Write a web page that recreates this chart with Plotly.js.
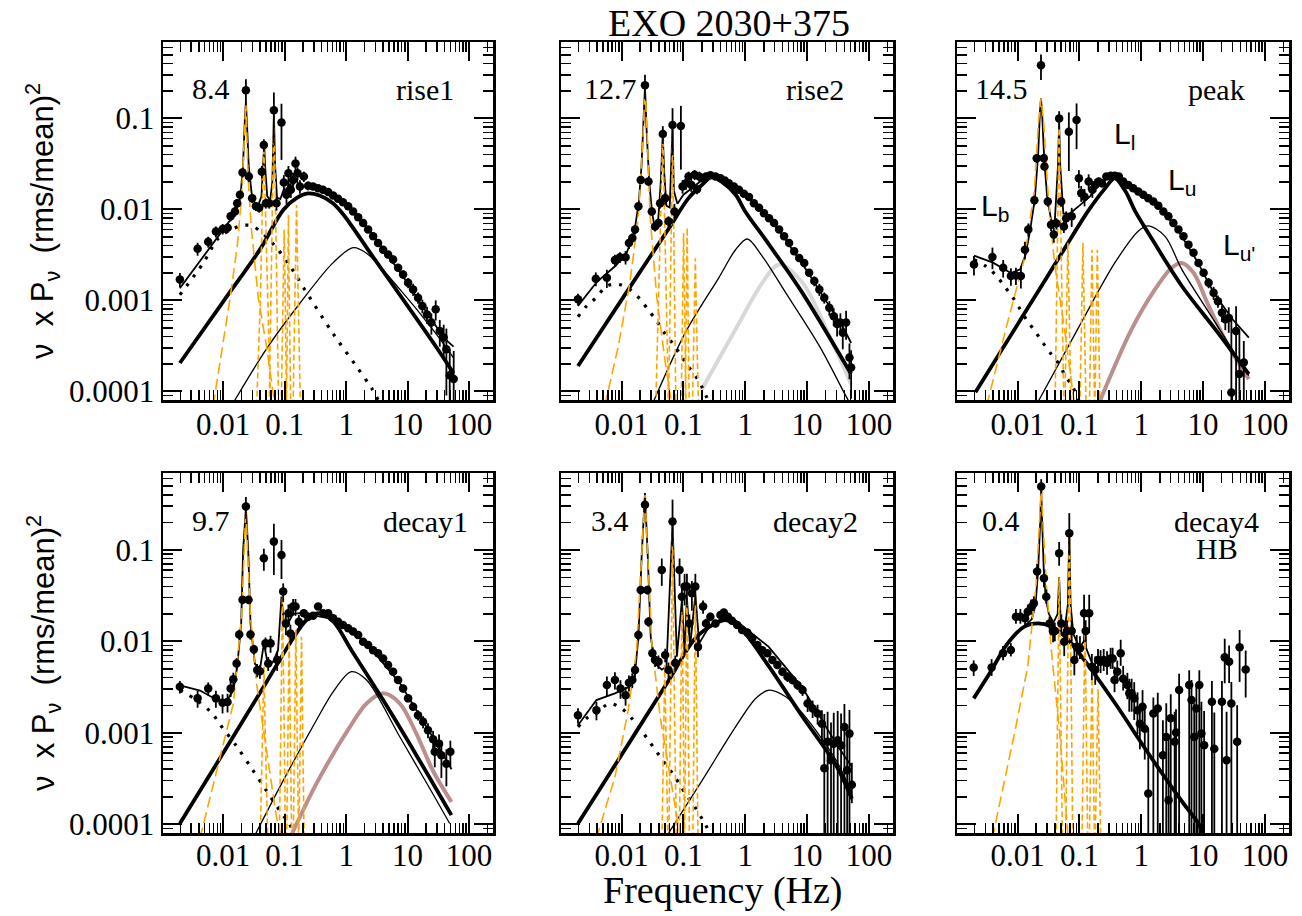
<!DOCTYPE html>
<html><head><meta charset="utf-8">
<script src="https://cdn.plot.ly/plotly-3.0.1.min.js"></script>
<style>html,body{margin:0;padding:0;background:#fff}#chart{width:1302px;height:916px}</style>
</head><body><div id="chart"></div>
<script>
// ---------------- tick labels ----------------
const xTickVals = [0.01, 0.1, 1, 10, 100];
const xTickText = ['0.01', '0.1', '1', '10', '100'];
const yTickVals = [0.0001, 0.001, 0.01, 0.1];
const yTickText = ['0.0001', '0.001', '0.01', '0.1'];
const panelNames = ['rise1', 'rise2', 'peak', 'decay1', 'decay2', 'decay4'];
const panelRates = ['8.4', '12.7', '14.5', '9.7', '3.4', '0.4'];

// ---------------- panel 1 : rise1 ----------------
const p1_freq = [0.00197,0.00383,0.0057,0.0076,0.0098,0.0118,0.0132,0.0155,0.0169,0.0187, 0.0206,0.0234,0.0261,0.0296,0.034,0.0385,0.0425,0.0458,0.0495,0.056, 0.0667,0.0736,0.0887,0.0969,0.107,0.115,0.126,0.137,0.150,0.162, 0.177,0.205,0.241,0.29,0.35,0.42,0.51,0.615,0.74,0.89, 1.08,1.3,1.57,1.89,2.28,2.75,3.31,4.0,4.82,5.81, 7.01,8.45,10.2,12.3,14.8,17.4,20.7,24.4,28.7,33.4, 38.7,42.8,48.5,56.3];
const p1_power = [0.0017,0.0037,0.0044,0.0057,0.0061,0.0063,0.0084,0.0095,0.0117,0.0145, 0.0254,0.204,0.023,0.0133,0.0108,0.0104,0.026,0.051,0.0117,0.0117, 0.123,0.0117,0.090,0.0198,0.0145,0.025,0.0164,0.0211,0.032,0.025, 0.0179,0.023,0.0182,0.0179,0.0171,0.0164,0.0155,0.0142,0.0131,0.012, 0.0108,0.0095,0.0082,0.0071,0.006,0.00506,0.00428,0.00361,0.00319,0.00281, 0.00228,0.00193,0.00156,0.00132,0.00107,0.00087,0.0007,0.00057,0.0008,0.00046, 0.00039,0.00029,0.00015,0.000137];
const p1_err = [0.0003,0.0006,0.0006,0.0008,0.0008,0.0008,0.001,0.0012,0.0013,0.0015, 0.003,0.065,0.003,0.0015,0.0012,0.0012,0.004,0.008,0.0015,0.0015, 0.07,0.002,0.055,0.004,0.003,0.005,0.003,0.004,0.006,0.004, 0.003,0.003,0.002,0.0015,0.0012,0.001,0.001,0.001,0.0009,0.0008, 0.0007,0.0006,0.0005,0.0005,0.0004,0.0004,0.0003,0.0003,0.0003,0.0003, 0.0002,0.0002,0.0002,0.0002,0.00015,0.00015,0.00015,0.00015,0.0002,0.00015, 0.00015,0.0002,0.00014,0.00014];
const p1_total = [[0.00197,0.00136],[0.004,0.0026],[0.0079,0.0048],[0.0126,0.0074],[0.0158,0.0091],[0.019,0.0135],[0.021,0.03],[0.0225,0.1],[0.0234,0.152],[0.0245,0.08],[0.026,0.03],[0.029,0.015],[0.033,0.0115],[0.037,0.011],[0.042,0.014],[0.045,0.035],[0.0465,0.05],[0.048,0.03],[0.052,0.014],[0.058,0.0125],[0.063,0.02],[0.0667,0.113],[0.07,0.03],[0.075,0.0135],[0.085,0.013],[0.098,0.017],[0.11,0.015],[0.115,0.02],[0.125,0.016],[0.14,0.019],[0.156,0.022],[0.17,0.017],[0.25,0.0185],[0.4,0.0168],[0.6,0.0145],[1.0,0.0118],[1.5,0.0088],[2.5,0.0057],[4,0.0037],[7,0.0022],[10,0.00155],[20,0.00075],[40,0.00038],[56,0.00031]];
const p1_Lb = [[0.00197,0.00115],[0.00473,0.00257],[0.0083,0.0048],[0.015,0.0062],[0.022,0.0067],[0.0308,0.0065],[0.0634,0.00425],[0.121,0.00242],[0.205,0.00136],[0.615,0.00043],[1.47,0.000188],[2.58,0.000109],[3.5,7.5e-5]];
const p1_Ll = [[0.00197,0.000205],[0.01,0.00097],[0.04,0.00366],[0.094,0.0098],[0.155,0.0133],[0.24,0.015],[0.37,0.0142],[0.61,0.0117],[0.9,0.0088],[3,0.00275],[10,0.00087],[30,0.0003],[56,0.000158]];
const p1_Lu = [[0.012,6e-5],[0.05,0.00029],[0.177,0.00093],[0.615,0.0026],[1.3,0.0038],[2.15,0.0033],[7.5,0.00132],[25.6,0.00048],[56,0.000234]];
const p1_qpos = [
 [[0.00687,7e-5],[0.00975,0.00031],[0.0128,0.00101],[0.0169,0.0039],[0.0199,0.0138],[0.0234,0.152],[0.0255,0.021],[0.0289,0.0059],[0.037,0.0011],[0.0507,0.00031],[0.0692,7e-5]],
 [[0.035,7e-5],[0.0404,0.0011],[0.0436,0.0138],[0.0458,0.049],[0.0488,0.0091],[0.054,0.00073],[0.059,7e-5]],
 [[0.056,7e-5],[0.0618,0.0026],[0.065,0.032],[0.0667,0.113],[0.0692,0.032],[0.0727,0.0026],[0.0795,7e-5]],
 [[0.088,7e-5],[0.094,0.0012],[0.098,0.006],[0.102,0.0012],[0.107,7e-5]],
 [[0.107,7e-5],[0.112,0.0016],[0.115,0.0087],[0.118,0.0016],[0.125,7e-5]],
 [[0.137,7e-5],[0.149,0.002],[0.156,0.0112],[0.163,0.002],[0.18,7e-5]]
];

// ---------------- panel 2 : rise2 ----------------
const p2_freq = [0.00197,0.00383,0.00578,0.0078,0.0094,0.0116,0.01315,0.0149,0.0165,0.0187, 0.0204,0.0239,0.0272,0.0308,0.0348,0.0395,0.042,0.0464,0.0507,0.0574, 0.0667,0.0717,0.091,0.0969,0.11,0.121,0.134,0.152,0.166,0.181, 0.2,0.232,0.273,0.33,0.397,0.467,0.542,0.654,0.789,0.951, 1.15,1.38,1.67,2.01,2.43,2.93,3.53,4.25,5.13,6.18, 7.46,9.0,10.8,13.1,15.8,19.0,22.9,27.0,30.6,34.6, 37.8,42.8,48.5,51.6];
const p2_power = [0.00103,0.00173,0.00177,0.00277,0.00298,0.00298,0.00428,0.00485,0.006,0.0108, 0.0211,0.232,0.0203,0.0095,0.0065,0.0071,0.0117,0.0673,0.0133,0.0074, 0.0845,0.0095,0.0824,0.0179,0.0194,0.023,0.0186,0.024,0.0167,0.023, 0.022,0.023,0.0238,0.023,0.022,0.0208,0.0194,0.0179,0.0164,0.0149, 0.0137,0.0117,0.0104,0.0091,0.008,0.0071,0.006,0.00506,0.00428,0.00347, 0.00293,0.00258,0.00201,0.00163,0.00132,0.00107,0.00083,0.00067,0.00055,0.00057, 0.00044,0.00057,0.000236,0.000183];
const p2_err = [0.00015,0.0003,0.0004,0.0004,0.0004,0.0005,0.0006,0.0006,0.0007,0.0012, 0.002,0.07,0.002,0.001,0.0008,0.0008,0.0015,0.015,0.002,0.001, 0.045,0.002,0.055,0.003,0.003,0.003,0.003,0.003,0.002,0.003, 0.002,0.002,0.002,0.0015,0.0015,0.0012,0.001,0.001,0.001,0.0009, 0.0008,0.0007,0.0006,0.0005,0.0005,0.0004,0.0004,0.0003,0.0003,0.0003, 0.0003,0.0002,0.0002,0.0002,0.0002,0.00015,0.00015,0.00015,0.00015,0.00015, 0.00015,0.0002,0.0001,0.0001];
const p2_total = [[0.00197,0.00087],[0.004,0.0016],[0.008,0.0024],[0.012,0.0033],[0.016,0.0055],[0.019,0.012],[0.021,0.03],[0.0225,0.1],[0.0239,0.222],[0.0255,0.07],[0.028,0.02],[0.031,0.0095],[0.034,0.0065],[0.039,0.0075],[0.043,0.02],[0.0464,0.065],[0.049,0.025],[0.053,0.011],[0.06,0.0105],[0.0667,0.08],[0.07,0.016],[0.08,0.0115],[0.1,0.0145],[0.15,0.018],[0.2,0.021],[0.3,0.0225],[0.5,0.021],[1,0.0145],[2,0.0092],[4,0.0052],[10,0.0021],[20,0.001],[40,0.00048],[51.6,0.00034]];
const p2_Lb = [[0.00197,0.00066],[0.00277,0.00088],[0.00383,0.00106],[0.00578,0.00144],[0.00883,0.0015],[0.0136,0.00132],[0.0199,0.00103],[0.0272,0.00078],[0.037,0.000594],[0.0488,0.000443],[0.0667,0.000338],[0.0887,0.000256],[0.117,0.000191],[0.156,0.000149],[0.2,0.000111],[0.26,7.5e-5]];
const p2_Ll = [[0.00197,0.00019],[0.0165,0.0017],[0.0574,0.0061],[0.121,0.0133],[0.2,0.0186],[0.29,0.023],[0.4,0.0205],[0.7,0.0145],[1.0,0.0095],[2.43,0.0041],[8.4,0.00121],[51.6,0.000155]];
const p2_Lu = [[0.0308,7e-5],[0.107,0.00044],[0.373,0.00177],[0.697,0.0036],[1.08,0.00473],[1.89,0.00305],[4.53,0.00121],[15.8,0.000316],[42.8,8.8e-5],[55,6.5e-5]];
const p2_Lu2 = [[0.2,0.000106],[0.697,0.00048],[1.89,0.00156],[3.53,0.00248],[8.45,0.00156],[22.9,0.00041],[51.6,0.00012]];
const p2_qpos = [
 [[0.00536,7e-5],[0.00883,0.00031],[0.0136,0.00156],[0.0187,0.0084],[0.0225,0.0745],[0.0239,0.222],[0.0258,0.0745],[0.0289,0.0084],[0.037,0.0011],[0.0507,0.00021],[0.065,7e-5]],
 [[0.0357,7e-5],[0.039,0.0008],[0.0435,0.012],[0.0464,0.068],[0.049,0.012],[0.053,0.0008],[0.0574,7e-5]],
 [[0.0574,7e-5],[0.0625,0.0015],[0.0655,0.02],[0.0667,0.075],[0.068,0.02],[0.071,0.0015],[0.0755,7e-5]],
 [[0.092,7e-5],[0.097,0.0011],[0.1007,0.0055],[0.104,0.0011],[0.11,7e-5]],
 [[0.107,7e-5],[0.112,0.0012],[0.115,0.0063],[0.118,0.0012],[0.124,7e-5]],
 [[0.14,7e-5],[0.15,0.0007],[0.156,0.0029],[0.162,0.0007],[0.175,7e-5]]
];

// ---------------- panel 3 : peak ----------------
const p3_freq = [0.00197,0.00392,0.00585,0.0078,0.0094,0.0113,0.01315,0.0149,0.0187,0.0204, 0.0239,0.0265,0.0272,0.0308,0.0348,0.0385,0.0425,0.047,0.0507,0.056, 0.061,0.0675,0.075,0.09,0.098,0.107,0.121,0.141,0.162,0.181, 0.205,0.232,0.273,0.321,0.373,0.434,0.51,0.615,0.741,0.894, 1.08,1.3,1.57,1.89,2.28,2.75,3.31,4.0,4.82,5.81, 7.01,8.45,10.2,12.3,14.8,17.4,20.2,22.9,26.0,28.7, 34.2,38.7,45.6];
const p3_power = [0.00248,0.003,0.00228,0.00185,0.00188,0.00185,0.00361,0.006,0.0126,0.0365, 0.384,0.0365,0.0296,0.0122,0.0068,0.0053,0.007,0.1,0.0122,0.0065, 0.008,0.0714,0.0084,0.096,0.022,0.0151,0.0138,0.0203,0.0164,0.0186, 0.0203,0.0194,0.023,0.0235,0.0235,0.023,0.0203,0.0186,0.0171,0.0157, 0.0145,0.0133,0.0122,0.011,0.0095,0.0084,0.0071,0.006,0.00506,0.0041, 0.00333,0.00258,0.00201,0.00156,0.00121,0.00098,0.00073,0.00062,0.00064,0.000097, 0.00046,0.000155,0.000208];
const p3_err = [0.0006,0.0008,0.0005,0.0004,0.0004,0.0005,0.0008,0.001,0.0015,0.004, 0.12,0.004,0.003,0.0015,0.001,0.001,0.001,0.02,0.0015,0.001, 0.0015,0.045,0.002,0.05,0.005,0.003,0.003,0.004,0.003,0.003, 0.002,0.002,0.0015,0.0015,0.0015,0.0012,0.0012,0.001,0.001,0.0009, 0.0008,0.0007,0.0007,0.0006,0.0005,0.0005,0.0004,0.0004,0.0003,0.0003, 0.0003,0.0002,0.0002,0.0002,0.0002,0.00015,0.00015,0.00015,0.0002,0.0006, 0.0004,0.0003,0.00015];
const p3_total = [[0.00197,0.0031],[0.004,0.0026],[0.0078,0.002],[0.011,0.0022],[0.0135,0.0032],[0.016,0.006],[0.019,0.013],[0.0215,0.04],[0.023,0.12],[0.0239,0.166],[0.025,0.11],[0.027,0.035],[0.03,0.014],[0.035,0.0075],[0.04,0.0075],[0.045,0.03],[0.047,0.088],[0.049,0.03],[0.055,0.009],[0.07,0.009],[0.1,0.011],[0.15,0.014],[0.2,0.0185],[0.3,0.0225],[0.4,0.023],[0.6,0.019],[1,0.015],[2,0.0105],[4,0.0058],[8,0.0027],[15,0.0012],[30,0.00062],[55,0.00039]];
const p3_Lb = [[0.00197,0.0028],[0.00317,0.00234],[0.00456,0.00185],[0.00607,0.00144],[0.0083,0.00109],[0.0106,0.00083],[0.014,0.00061],[0.0191,0.00046],[0.0255,0.000344],[0.034,0.000263],[0.0447,0.000208],[0.0589,0.000149],[0.0784,0.000111],[0.1,7.5e-5]];
const p3_Ll = [[0.00208,9.8e-5],[0.0165,0.00094],[0.0574,0.0037],[0.137,0.0095],[0.25,0.0165],[0.373,0.022],[0.55,0.016],[0.8,0.0095],[1.3,0.0055],[4.53,0.00144],[15.8,0.00048],[54.9,0.000155]];
const p3_Lu = [[0.0199,7e-5],[0.107,0.00057],[0.373,0.00258],[0.9,0.0058],[1.3,0.0066],[2.43,0.00506],[4.53,0.00219],[15.8,0.00057],[54.9,0.000149]];
const p3_Lu2 = [[0.2,7e-5],[0.697,0.00048],[1.67,0.00132],[3.11,0.00228],[4.53,0.00258],[7.01,0.00201],[12.3,0.00087],[26,0.00031],[54.9,0.000136]];
const p3_qpos = [
 [[0.00317,7e-5],[0.00687,0.00057],[0.0128,0.00281],[0.0187,0.0164],[0.0217,0.088],[0.0239,0.166],[0.0265,0.088],[0.0308,0.0164],[0.0395,0.00258],[0.0574,0.00048],[0.0834,7e-5]],
 [[0.0404,7e-5],[0.0435,0.0025],[0.0455,0.02],[0.047,0.088],[0.0485,0.02],[0.051,0.0025],[0.056,7e-5]],
 [[0.058,7e-5],[0.062,0.0009],[0.065,0.0043],[0.068,0.0009],[0.073,7e-5]],
 [[0.102,7e-5],[0.109,0.0009],[0.114,0.0043],[0.119,0.0009],[0.128,7e-5]],
 [[0.145,7e-5],[0.154,0.0008],[0.16,0.0036],[0.166,0.0008],[0.176,7e-5]],
 [[0.178,7e-5],[0.188,0.0008],[0.195,0.0036],[0.202,0.0008],[0.215,7e-5]]
];

// ---------------- panel 4 : decay1 ----------------
const p4_freq = [0.00197,0.00383,0.0057,0.0076,0.00975,0.01175,0.0132,0.0146,0.0165,0.0182, 0.0206,0.0234,0.0258,0.0278,0.0315,0.0357,0.0395,0.0458,0.0488,0.054, 0.0589,0.0667,0.0755,0.0887,0.0946,0.1045,0.115,0.124,0.137,0.15, 0.17,0.205,0.241,0.29,0.35,0.42,0.51,0.615,0.74,0.89, 1.08,1.3,1.57,1.89,2.28,2.75,3.31,4.0,4.82,5.81, 7.01,8.45,10.2,12.3,14.8,17.9,21.5,26.0,27.7,32.5, 35.5,42.8,49.7];
const p4_power = [0.00319,0.00238,0.00306,0.00238,0.00213,0.00217,0.00306,0.00384,0.00574,0.0119, 0.0284,0.298,0.0284,0.0119,0.00817,0.00485,0.0047,0.081,0.0095,0.00574, 0.0095,0.123,0.00625,0.088,0.035,0.0157,0.0203,0.0122,0.024,0.024, 0.0164,0.0203,0.0186,0.019,0.024,0.0203,0.0203,0.0179,0.0164,0.0151, 0.0139,0.0128,0.0117,0.0099,0.0091,0.008,0.0074,0.0065,0.0055,0.00466, 0.00378,0.00306,0.00238,0.00193,0.00156,0.00132,0.00107,0.00085,0.00062,0.00076, 0.00057,0.00046,0.00062];
const p4_err = [0.0005,0.0005,0.0005,0.0005,0.0005,0.0005,0.0006,0.0007,0.0008,0.0015, 0.003,0.08,0.003,0.0015,0.001,0.0008,0.0008,0.022,0.0015,0.001, 0.002,0.07,0.0015,0.04,0.008,0.004,0.005,0.003,0.005,0.005, 0.003,0.002,0.002,0.0015,0.0015,0.0012,0.0012,0.001,0.001,0.0009, 0.0008,0.0007,0.0007,0.0006,0.0005,0.0005,0.0005,0.0004,0.0004,0.0003, 0.0003,0.0003,0.0002,0.0002,0.0002,0.0002,0.0002,0.0002,0.0002,0.0002, 0.00025,0.0002,0.0002];
const p4_total = [[0.00197,0.0033],[0.0042,0.0029],[0.0078,0.0023],[0.0113,0.0022],[0.0146,0.0029],[0.0169,0.0053],[0.0196,0.0157],[0.0211,0.1],[0.0234,0.286],[0.0255,0.1],[0.0278,0.0157],[0.0327,0.0057],[0.0395,0.0049],[0.046,0.0095],[0.054,0.0053],[0.065,0.006],[0.078,0.008],[0.0887,0.0308],[0.097,0.0157],[0.115,0.016],[0.137,0.02],[0.177,0.0203],[0.33,0.019],[0.615,0.0175],[2.15,0.0095],[7.5,0.0035],[25.6,0.0009],[52,0.0004]];
const p4_Lb = [[0.00197,0.00293],[0.00368,0.00228],[0.00662,0.00163],[0.00883,0.00124],[0.0165,0.000714],[0.0289,0.00041],[0.0507,0.000232],[0.09,0.000131],[0.12,0.0001],[0.15,7.5e-5]];
const p4_Ll = [[0.00197,0.000102],[0.0146,0.00091],[0.0507,0.0036],[0.137,0.0108],[0.226,0.0171],[0.35,0.0203],[0.615,0.0165],[1.22,0.008],[4.0,0.00228],[13.9,0.00057],[51.6,0.000126]];
const p4_Lu = [[0.0308,7e-5],[0.0946,0.0003],[0.33,0.00138],[0.615,0.00281],[1.22,0.00466],[2.15,0.00378],[7.5,0.0009],[25.6,0.000217],[48.5,0.000102]];
const p4_Lu2 = [[0.121,7e-5],[0.33,0.00028],[1.15,0.00116],[2.15,0.00209],[4.0,0.0027],[7.5,0.00209],[13.9,0.00098],[25.6,0.00039],[51.6,0.000176]];
const p4_qpos = [
 [[0.00418,7e-5],[0.0078,0.00039],[0.0146,0.00209],[0.0199,0.0186],[0.0219,0.1],[0.0234,0.29],[0.0249,0.1],[0.0278,0.0186],[0.0348,0.00347],[0.0507,0.00065],[0.0736,0.00012],[0.09,7e-5]],
 [[0.04,7e-5],[0.044,0.0012],[0.046,0.0053],[0.048,0.0012],[0.053,7e-5]],
 [[0.082,7e-5],[0.088,0.004],[0.092,0.031],[0.096,0.004],[0.103,7e-5]],
 [[0.108,7e-5],[0.114,0.002],[0.118,0.0112],[0.122,0.002],[0.13,7e-5]],
 [[0.138,7e-5],[0.147,0.0025],[0.152,0.0133],[0.157,0.0025],[0.168,7e-5]],
 [[0.17,7e-5],[0.182,0.002],[0.188,0.0112],[0.194,0.002],[0.207,7e-5]]
];

// ---------------- panel 5 : decay2 ----------------
const p5_freq = [0.00197,0.00392,0.00578,0.0078,0.0096,0.0116,0.01315,0.0149,0.0165,0.0187, 0.0204,0.0239,0.0261,0.0272,0.0315,0.0348,0.0395,0.0447,0.0507,0.0574, 0.0667,0.0738,0.0867,0.0946,0.1045,0.114,0.125,0.137,0.156,0.172, 0.208,0.232,0.273,0.33,0.397,0.45,0.523,0.61,0.741,0.89, 1.08,1.3,1.57,1.89,2.28,2.75,3.31,4.0,4.82,5.81, 7.01,8.45,10.2,12.3,14.8,17.4,19.0,21.5,24.4,27.0, 31.3,35.5,40.2,44.5,48.5,53.0];
const p5_power = [0.00156,0.00177,0.00333,0.00378,0.00306,0.00258,0.00353,0.00378,0.00485,0.0117, 0.0365,0.311,0.0365,0.0164,0.0074,0.00625,0.006,0.0604,0.0071,0.00485, 0.204,0.0058,0.0604,0.0308,0.0397,0.0397,0.0157,0.0336,0.0397,0.0087, 0.024,0.0157,0.0186,0.0157,0.0194,0.0206,0.0186,0.0168,0.0151,0.0133, 0.0125,0.0108,0.0091,0.008,0.0074,0.00625,0.0055,0.00466,0.0041,0.00378, 0.00333,0.00293,0.00209,0.00185,0.00163,0.00126,0.00041,0.0008,0.0005,0.00076, 0.00083,0.00073,0.00116,0.00039,0.00098,0.00027];
const p5_errUp = [0.0003,0.0004,0.0008,0.0008,0.0007,0.0006,0.0007,0.0007,0.0008,0.0015, 0.004,0.06,0.004,0.002,0.0012,0.001,0.001,0.02,0.0012,0.001, 0.15,0.0012,0.02,0.01,0.015,0.015,0.004,0.012,0.015,0.002, 0.004,0.002,0.002,0.0015,0.0015,0.0015,0.0012,0.0012,0.001,0.001, 0.0009,0.0008,0.0007,0.0006,0.0006,0.0005,0.0005,0.0005,0.0005,0.0004, 0.0004,0.0004,0.0004,0.0004,0.0004,0.0005,0.0012,0.0009,0.0008,0.0009, 0.0009,0.0009,0.0009,0.0006,0.0008,0.0002];
const p5_errDown = [0.0003,0.0004,0.0008,0.0008,0.0007,0.0006,0.0007,0.0007,0.0008,0.0015, 0.004,0.06,0.004,0.002,0.0012,0.001,0.001,0.02,0.0012,0.001, 0.095,0.0012,0.02,0.01,0.015,0.015,0.004,0.012,0.015,0.002, 0.004,0.002,0.002,0.0015,0.0015,0.0015,0.0012,0.0012,0.001,0.001, 0.0009,0.0008,0.0007,0.0006,0.0006,0.0005,0.0005,0.0005,0.0005,0.0004, 0.0004,0.0004,0.0004,0.0004,0.0004,0.0005,0.0005,0.0009,0.0006,0.0008, 0.0009,0.0008,0.0012,0.0004,0.001,0.0001];
const p5_total = [[0.00197,0.00121],[0.00392,0.00228],[0.0078,0.0027],[0.0136,0.0032],[0.0165,0.0045],[0.0187,0.0112],[0.0211,0.0845],[0.0239,0.417],[0.0265,0.0845],[0.0296,0.0112],[0.0348,0.0057],[0.0447,0.0049],[0.0532,0.0053],[0.061,0.043],[0.0667,0.196],[0.0717,0.043],[0.0784,0.0068],[0.0946,0.0284],[0.104,0.0075],[0.114,0.03],[0.128,0.0087],[0.156,0.032],[0.18,0.0095],[0.26,0.0145],[0.42,0.0178],[0.7,0.017],[2.4,0.0087],[8.45,0.0031],[29.6,0.00076],[53,0.000425]];
const p5_Lb = [[0.00197,0.00116],[0.00294,0.0015],[0.00392,0.00163],[0.0063,0.00209],[0.01,0.00185],[0.0146,0.00144],[0.0199,0.00111],[0.0272,0.00083],[0.037,0.00062],[0.0494,0.00047],[0.0667,0.00036],[0.0887,0.000267],[0.117,0.000199],[0.156,0.000152],[0.2,0.000115],[0.27,8e-5]];
const p5_Ll = [[0.00197,0.000102],[0.0165,0.00098],[0.0574,0.0037],[0.156,0.0108],[0.33,0.0157],[0.48,0.0171],[0.89,0.0133],[2.43,0.00528],[8.45,0.0015],[29.6,0.00044],[53,0.00019]];
const p5_Lu = [[0.0507,7e-5],[0.2,0.0003],[0.697,0.00116],[1.5,0.0024],[2.43,0.00293],[4.53,0.00248],[8.45,0.00163],[29.6,0.0005],[53,0.000217]];
const p5_qpos = [
 [[0.00392,7e-5],[0.0078,0.00033],[0.0128,0.00177],[0.0175,0.008],[0.0211,0.0845],[0.0239,0.417],[0.0265,0.0845],[0.0308,0.0095],[0.042,0.0015],[0.0574,0.000425],[0.083,9e-5],[0.09,7e-5]],
 [[0.045,7e-5],[0.048,0.0012],[0.05,0.0055],[0.052,0.0012],[0.056,7e-5]],
 [[0.058,7e-5],[0.063,0.003],[0.0655,0.04],[0.0667,0.196],[0.068,0.04],[0.071,0.003],[0.077,7e-5]],
 [[0.086,7e-5],[0.091,0.004],[0.0946,0.028],[0.098,0.004],[0.104,7e-5]],
 [[0.104,7e-5],[0.11,0.004],[0.114,0.03],[0.118,0.004],[0.125,7e-5]],
 [[0.142,7e-5],[0.151,0.004],[0.156,0.032],[0.161,0.004],[0.172,7e-5]]
];

// ---------------- panel 6 : decay4 (HB) ----------------
const p6_freq = [0.00195,0.0038,0.00582,0.00778,0.0094,0.0111,0.0132,0.0146,0.0166,0.0183, 0.0207,0.0241,0.0267,0.0291,0.033,0.0375,0.04,0.047,0.051,0.0568, 0.063,0.0686,0.075,0.0828,0.0905,0.102,0.119,0.126,0.144,0.159, 0.18,0.2,0.22,0.247,0.28,0.32,0.345,0.37,0.41,0.465, 0.51,0.597,0.64,0.7,0.77,0.87,0.95,1.05,1.14,1.3, 1.57,1.85,2.24,2.54,2.77,3.0,3.47,3.65,4.1,5.97, 6.5,7.2,7.8,8.7,9.4,10.4,13.9,15.2,20.2,22.4, 24,26.4,28.7,35.6,39,48.9];
const p6_power = [0.00519,0.00519,0.0074,0.00804,0.0186,0.0186,0.0179,0.0211,0.0236,0.026, 0.058,0.493,0.049,0.0308,0.0157,0.0128,0.013,0.092,0.0157,0.0099, 0.013,0.152,0.013,0.00625,0.0087,0.0084,0.0203,0.013,0.0203,0.00528, 0.00485,0.00625,0.006,0.00625,0.0058,0.0065,0.0065,0.00378,0.00466,0.0074, 0.0039,0.00333,0.0027,0.0027,0.00238,0.00177,0.00126,0.00193,0.00111,0.000217, 0.00163,0.00185,0.00057,0.0009,0.000183,0.00144,0.0008,0.00101,0.00293,0.00333, 0.00228,0.0009,0.00185,0.00333,0.00098,0.00073,0.00219,0.00067,0.00219,0.00668, 0.0005,0.006,0.00209,0.0008,0.0086,0.00493];
const p6_errUp = [0.001,0.0012,0.0015,0.0015,0.004,0.004,0.004,0.004,0.005,0.005, 0.012,0.1,0.012,0.006,0.003,0.003,0.003,0.03,0.004,0.003, 0.004,0.1,0.004,0.002,0.003,0.003,0.012,0.004,0.012,0.002, 0.002,0.002,0.002,0.002,0.002,0.002,0.002,0.0015,0.0015,0.003, 0.0015,0.0012,0.0012,0.0012,0.0012,0.001,0.0008,0.001,0.0008,0.0009, 0.0008,0.0009,0.0008,0.0012,0.0007,0.0012,0.0009,0.0008,0.0015,0.0015, 0.0015,0.0012,0.0015,0.0015,0.0012,0.001,0.0015,0.001,0.0015,0.004, 0.0012,0.003,0.0015,0.0012,0.0047,0.003];
const p6_errDown = [0.001,0.001,0.0012,0.0012,0.003,0.003,0.003,0.003,0.004,0.004, 0.01,0.08,0.01,0.005,0.003,0.003,0.003,0.025,0.003,0.003, 0.003,0.065,0.003,0.002,0.002,0.002,0.008,0.003,0.008,0.0015, 0.0015,0.0015,0.0015,0.0015,0.0015,0.0015,0.0015,0.001,0.0012,0.002, 0.001,0.001,0.001,0.001,0.001,0.0008,0.0006,0.0008,0.0006,0.00025, 0.0017,0.0019,0.0006,0.001,0.0002,0.0015,0.001,0.0011,0.003,0.0035, 0.0025,0.001,0.002,0.0035,0.001,0.0008,0.0023,0.0007,0.0023,0.0032, 0.0006,0.0025,0.0022,0.0009,0.005,0.0025];
const p6_total = [[0.0129,0.0146],[0.017,0.0175],[0.0195,0.025],[0.0215,0.06],[0.0232,0.2],[0.0241,0.45],[0.025,0.2],[0.0265,0.06],[0.0285,0.03],[0.032,0.02],[0.038,0.016],[0.0445,0.02],[0.047,0.05],[0.0495,0.018],[0.058,0.014],[0.065,0.025],[0.0686,0.15],[0.072,0.025],[0.08,0.012],[0.1,0.0085],[0.118,0.01],[0.123,0.016],[0.128,0.0085],[0.15,0.0065],[0.2,0.0039]];
const p6_Ll = [[0.00195,0.00238],[0.00366,0.00466],[0.0069,0.0095],[0.0129,0.0145],[0.0213,0.0157],[0.0352,0.0145],[0.0661,0.0104],[0.109,0.0068],[0.38,0.00209],[1.34,0.00058],[4.78,0.00017],[8.4,0.000102],[10,7.5e-5]];
const p6_qpos = [
 [[0.0039,7e-5],[0.0089,0.00098],[0.0146,0.00528],[0.02,0.0431],[0.0241,0.45],[0.0291,0.043],[0.0352,0.008],[0.048,0.00098],[0.066,7e-5]],
 [[0.042,7e-5],[0.045,0.005],[0.047,0.05],[0.049,0.005],[0.053,7e-5]],
 [[0.06,7e-5],[0.065,0.012],[0.0686,0.15],[0.072,0.012],[0.078,7e-5]],
 [[0.11,7e-5],[0.118,0.002],[0.123,0.0157],[0.128,0.002],[0.136,7e-5]],
 [[0.145,7e-5],[0.155,0.001],[0.16,0.005],[0.165,0.001],[0.175,7e-5]],
 [[0.18,7e-5],[0.193,0.0007],[0.2,0.003],[0.207,0.0007],[0.22,7e-5]]
];

// ---------------- assembly ----------------
const ROSY = 'rgb(188,143,143)', GRAY = 'rgb(216,216,216)', ORANGE = 'rgb(255,165,0)';
const panels = [
  {freq:p1_freq, power:p1_power, up:p1_err, dn:p1_err, total:p1_total, Lb:p1_Lb, Ll:p1_Ll, Lu:p1_Lu, Lu2:null, c2:null, qpos:p1_qpos},
  {freq:p2_freq, power:p2_power, up:p2_err, dn:p2_err, total:p2_total, Lb:p2_Lb, Ll:p2_Ll, Lu:p2_Lu, Lu2:p2_Lu2, c2:GRAY, qpos:p2_qpos},
  {freq:p3_freq, power:p3_power, up:p3_err, dn:p3_err, total:p3_total, Lb:p3_Lb, Ll:p3_Ll, Lu:p3_Lu, Lu2:p3_Lu2, c2:ROSY, qpos:p3_qpos},
  {freq:p4_freq, power:p4_power, up:p4_err, dn:p4_err, total:p4_total, Lb:p4_Lb, Ll:p4_Ll, Lu:p4_Lu, Lu2:p4_Lu2, c2:ROSY, qpos:p4_qpos},
  {freq:p5_freq, power:p5_power, up:p5_errUp, dn:p5_errDown, total:p5_total, Lb:p5_Lb, Ll:p5_Ll, Lu:p5_Lu, Lu2:null, c2:null, qpos:p5_qpos},
  {freq:p6_freq, power:p6_power, up:p6_errUp, dn:p6_errDown, total:p6_total, Lb:null, Ll:p6_Ll, Lu:null, Lu2:null, c2:null, qpos:p6_qpos}
];

const W = 1302, H = 916;
const colPx = [[163,493],[561,893],[957,1289]];
const rowPx = [[42,400],[473,833]];
const px = v => v / W, py = v => 1 - v / H;

const xMinor = [], yMinor = [];
for (let e = -3; e <= 2; e++) for (let d = 2; d <= 9; d++) xMinor.push(Number((d * Math.pow(10, e)).toPrecision(3)));
for (let e = -5; e <= -1; e++) for (let d = 2; d <= 9; d++) yMinor.push(Number((d * Math.pow(10, e)).toPrecision(3)));

const SERIF = 'Liberation Serif, Times New Roman, serif';
const SANS = 'Liberation Sans, Arial, sans-serif';

const traces = [];
const layout = {
  width: W, height: H, margin: {l:0, r:0, t:0, b:0},
  paper_bgcolor: '#fff', plot_bgcolor: '#fff', showlegend: false,
  annotations: []
};

const col = a => a.map(d => d[0]);
const val = a => a.map(d => d[1]);

panels.forEach((P, i) => {
  const n = i === 0 ? '' : String(i + 1);
  const xa = 'x' + n, ya = 'y' + n;
  const c = i % 3, r = Math.floor(i / 3);
  const common = {
    type: 'log', showline: true, linecolor: '#000', linewidth: 2.5, mirror: 'allticks',
    ticks: 'inside', ticklen: 19, tickwidth: 2, tickcolor: '#000',
    showgrid: false, zeroline: false, fixedrange: true,
    tickfont: {family: SERIF, size: 31, color: '#000'}
  };
  layout['xaxis' + n] = Object.assign({}, common, {
    domain: [px(colPx[c][0]), px(colPx[c][1])], anchor: ya,
    range: [-2.98, 2.39], tickmode: 'array', tickvals: xTickVals, ticktext: xTickText,
    ticklabelstandoff: r === 0 ? -5 : -7,
    minor: {tickmode: 'array', tickvals: xMinor, ticks: 'inside', ticklen: 10, tickwidth: 1.5, tickcolor: '#000', showgrid: false}
  });
  layout['yaxis' + n] = Object.assign({}, common, {
    domain: [py(rowPx[r][1]), py(rowPx[r][0])], anchor: xa,
    range: [-4.095, -0.16], tickmode: 'array', tickvals: yTickVals, ticktext: yTickText,
    showticklabels: c === 0,
    minor: {tickmode: 'array', tickvals: yMinor, ticks: 'inside', ticklen: 10, tickwidth: 1.5, tickcolor: '#000', showgrid: false}
  });
  const base = {xaxis: xa, yaxis: ya, hoverinfo: 'skip', type: 'scatter', mode: 'lines'};
  if (P.Lu2) traces.push(Object.assign({}, base, {x: col(P.Lu2), y: val(P.Lu2), line: {color: P.c2, width: 4, shape: 'spline', smoothing: 0.9}}));
  if (P.Lu) traces.push(Object.assign({}, base, {x: col(P.Lu), y: val(P.Lu), line: {color: '#000', width: 1.3, shape: 'spline', smoothing: 0.9}}));
  traces.push(Object.assign({}, base, {x: col(P.Ll), y: val(P.Ll), line: {color: '#000', width: 3.8, shape: 'spline', smoothing: 0.9}}));
  if (P.Lb) traces.push(Object.assign({}, base, {x: col(P.Lb), y: val(P.Lb), line: {color: '#000', width: 3.2, dash: '3px,8px', shape: 'spline', smoothing: 0.9}}));
  traces.push(Object.assign({}, base, {x: col(P.total), y: val(P.total), line: {color: '#000', width: 1.8}}));
  P.qpos.forEach((q, k) => traces.push(Object.assign({}, base, {x: col(q), y: val(q), line: {color: ORANGE, width: 1.6, dash: k === 0 ? '11px,5px' : '6px,3px'}})));
  traces.push({
    type: 'scatter', mode: 'markers', xaxis: xa, yaxis: ya, hoverinfo: 'skip',
    x: P.freq, y: P.power,
    marker: {color: '#000', size: 8.5},
    error_y: {type: 'data', symmetric: false, array: P.up, arrayminus: P.dn, color: '#000', thickness: 1.8, width: 0}
  });
  // rate and name labels
  const lx = [211, 610, 1001][c], nx = [425, 815, 1216][c];
  const ly = r === 0 ? 89 : 520;
  layout.annotations.push({xref:'paper', yref:'paper', x: px(lx), y: py(ly), text: panelRates[i], showarrow:false, xanchor:'center', yanchor:'middle', font:{family:SERIF, size:30, color:'#000'}});
  layout.annotations.push({xref:'paper', yref:'paper', x: px(nx), y: py(ly + 1), text: panelNames[i], showarrow:false, xanchor:'center', yanchor:'middle', font:{family:SERIF, size:30, color:'#000'}});
});

layout.annotations.push(
  {xref:'paper', yref:'paper', x: px(1217), y: py(548), text:'HB', showarrow:false, xanchor:'center', yanchor:'middle', font:{family:SERIF, size:30, color:'#000'}},
  {xref:'paper', yref:'paper', x: px(729), y: 1, text:'EXO 2030+375', showarrow:false, xanchor:'center', yanchor:'top', font:{family:SERIF, size:38, color:'#000'}},
  {xref:'paper', yref:'paper', x: px(723), y: py(890), text:'Frequency (Hz)', showarrow:false, xanchor:'center', yanchor:'middle', font:{family:SERIF, size:38, color:'#000'}},
  {xref:'paper', yref:'paper', x: px(43), y: py(221), text:'ν  x P<sub>ν</sub>  (rms/mean)<sup>2</sup>', textangle:-90, showarrow:false, xanchor:'center', yanchor:'middle', font:{family:SANS, size:31, color:'#000'}},
  {xref:'paper', yref:'paper', x: px(43), y: py(653), text:'ν  x P<sub>ν</sub>  (rms/mean)<sup>2</sup>', textangle:-90, showarrow:false, xanchor:'center', yanchor:'middle', font:{family:SANS, size:31, color:'#000'}},
  {xref:'paper', yref:'paper', x: px(979), y: py(207), text:'L<sub>b</sub>', showarrow:false, xanchor:'left', yanchor:'middle', font:{family:SANS, size:30, color:'#000'}},
  {xref:'paper', yref:'paper', x: px(1112), y: py(135), text:'L<sub>l</sub>', showarrow:false, xanchor:'left', yanchor:'middle', font:{family:SANS, size:30, color:'#000'}},
  {xref:'paper', yref:'paper', x: px(1166), y: py(181), text:'L<sub>u</sub>', showarrow:false, xanchor:'left', yanchor:'middle', font:{family:SANS, size:30, color:'#000'}},
  {xref:'paper', yref:'paper', x: px(1221), y: py(246), text:"L<sub>u'</sub>", showarrow:false, xanchor:'left', yanchor:'middle', font:{family:SANS, size:30, color:'#000'}}
);

Plotly.newPlot('chart', traces, layout, {displayModeBar: false, staticPlot: true});
</script></body></html>
